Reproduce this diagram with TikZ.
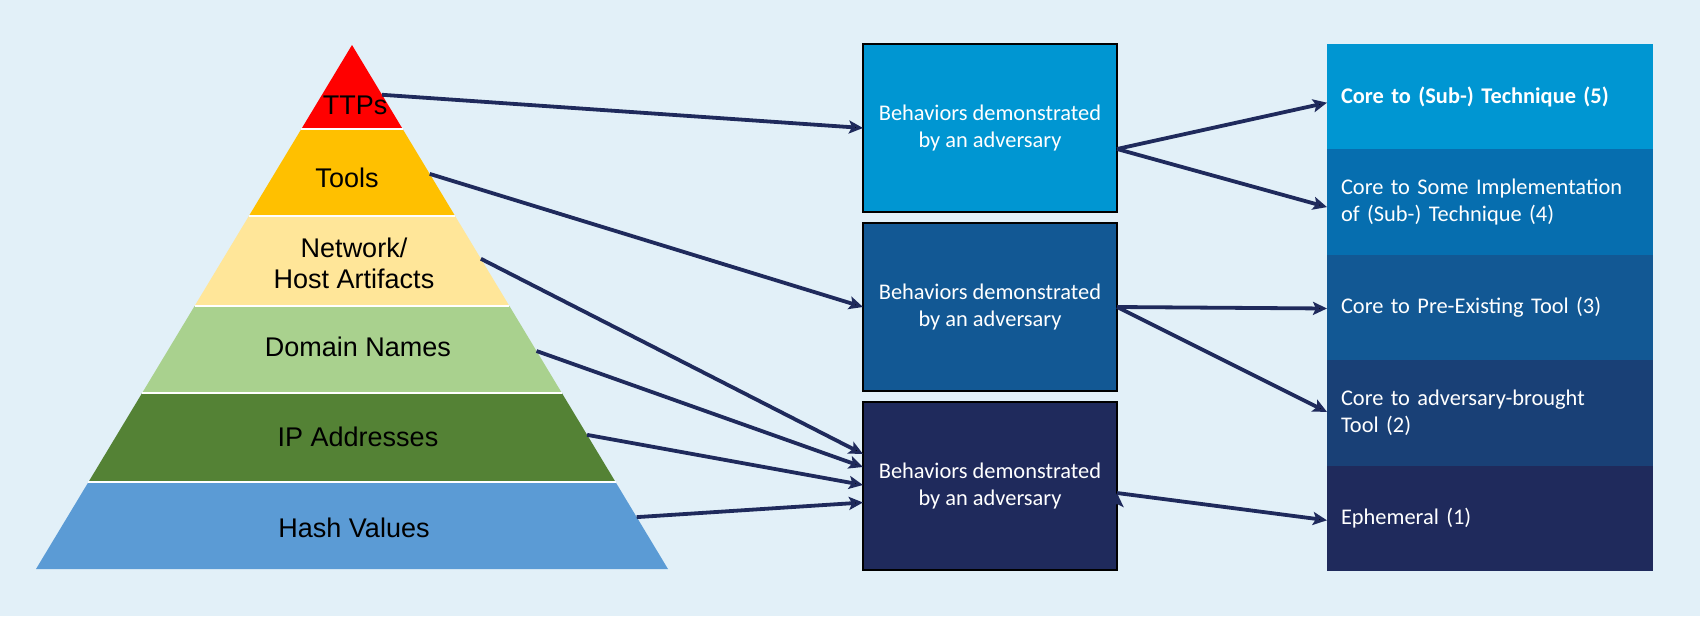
\documentclass[tikz,border=0pt]{standalone}
\usepackage{fontspec}
\setmainfont{Carlito}
\newfontfamily\pyrfont{Liberation Sans}
\usetikzlibrary{arrows.meta,calc,positioning}
\definecolor{bgblue}{RGB}{226,240,248}
\definecolor{navy}{RGB}{31,42,92}
\definecolor{ttpred}{RGB}{255,0,0}
\definecolor{toolgold}{RGB}{255,192,0}
\definecolor{netyellow}{RGB}{255,230,153}
\definecolor{domgreen}{RGB}{169,209,142}
\definecolor{ipgreen}{RGB}{84,130,53}
\definecolor{hashblue}{RGB}{91,155,213}
\definecolor{lvlfive}{RGB}{0,150,210}
\definecolor{lvlfour}{RGB}{6,110,175}
\definecolor{lvlthree}{RGB}{18,88,148}
\definecolor{lvltwo}{RGB}{25,64,118}
\definecolor{lvlone}{RGB}{31,42,92}
\tikzset{
    layer/.style =  {text=black,
                    align=center,
                    inner sep=0pt,
                    font=\pyrfont\fontsize{27}{31}\selectfont},
    behav/.style =  {rectangle,
                    draw=black,
                    line width=1.8pt,
                    text=white,
                    outer sep=0pt,
                    minimum width=254pt,
                    minimum height=168pt,
                    align=center,
                    font=\fontsize{22.4}{27.5}\selectfont},
    level/.style =  {rectangle,
                    text=white,
                    outer sep=0pt,
                    inner xsep=14pt,
                    inner ysep=0pt,
                    text width=298pt,
                    minimum height=105.4pt,
                    align=left,
                    font=\fontsize{22.4}{27}\selectfont},
    link/.style =   {draw=navy,
                    line width=3.8pt,
                    -{Stealth[length=14pt,width=13pt,inset=3pt]}},
    sep/.style =    {draw=white,
                    line width=2.5pt}}

\begin{document}
\begin{tikzpicture}[x=1pt,y=-1pt]
            \useasboundingbox (0,0) rectangle (1700,616);
            \fill[bgblue] (0,0) rectangle (1700,616);

            % pyramid
            \coordinate (top) at (352,45);
            \coordinate (bl)  at (36,569);
            \coordinate (br)  at (668,569);
            \foreach \a/\b/\col in {0/0.1603/ttpred, 0.1603/0.3263/toolgold,
                    0.3263/0.4981/netyellow, 0.4981/0.6641/domgreen,
                    0.6641/0.834/ipgreen, 0.834/1/hashblue}
                \fill[\col] ($(top)!\a!(bl)$) -- ($(top)!\b!(bl)$)
                    -- ($(top)!\b!(br)$) -- ($(top)!\a!(br)$) -- cycle;
            \foreach \b in {0.1603,0.3263,0.4981,0.6641,0.834}
                \draw[sep] ($(top)!\b!(bl)$) -- ($(top)!\b!(br)$);

            \node[layer]    (ttps)  at (355,105)    {TTPs};
            \node[layer]    (tools) at (347,178)    {Tools};
            \node[layer]    (net)   at (354,263)    {Network/\\Host Artifacts};
            \node[layer]    (dom)   at (358,347)    {Domain Names};
            \node[layer]    (ip)    at (358,437)    {IP Addresses};
            \node[layer]    (hash)  at (354,527.5)  {Hash Values};

            \coordinate (ttpsR)  at ($(top)!0.095!(br)$);
            \coordinate (toolsR) at ($(top)!0.246!(br)$);
            \coordinate (netR)   at ($(top)!0.408!(br)$);
            \coordinate (domR)   at ($(top)!0.584!(br)$);
            \coordinate (ipR)    at ($(top)!0.744!(br)$);
            \coordinate (hashR)  at ($(top)!0.901!(br)$);

            % behaviour boxes
            \node[behav, fill=lvlfive]  (box1) at (990,128)     {Behaviors demonstrated\\by an adversary};
            \node[behav, fill=lvlthree] (box2) [below=11pt of box1] {Behaviors demonstrated\\by an adversary};
            \node[behav, fill=lvlone]   (box3) [below=11pt of box2] {Behaviors demonstrated\\by an adversary};

            % levels
            \node[level, fill=lvlfive]  (lvl5) at (1490,96.7) {\bfseries Core to (Sub-) Technique (5)};
            \node[level, fill=lvlfour]  (lvl4) [below=0pt of lvl5] {Core to Some Implementation\\of (Sub-) Technique (4)};
            \node[level, fill=lvlthree] (lvl3) [below=0pt of lvl4] {Core to Pre-Existing Tool (3)};
            \node[level, fill=lvltwo]   (lvl2) [below=0pt of lvl3] {Core to adversary-brought\\Tool (2)};
            \node[level, fill=lvlone]   (lvl1) [below=0pt of lvl2] {Ephemeral (1)};

            \path [link]    (ttpsR)  edge []    (box1.west)
                            (toolsR) edge []    (box2.west)
                            (netR)   edge []    ([yshift=32pt]box3.west)
                            (domR)   edge []    ([yshift=19pt]box3.west)
                            (ipR)    edge []    ([yshift=1pt]box3.west)
                            (hashR)  edge []    ([yshift=-16.5pt]box3.west)
                            ([yshift=-21pt]box1.east) edge [] ([yshift=-6pt]lvl5.west)
                            ([yshift=-21pt]box1.east) edge [] ([yshift=-5pt]lvl4.west)
                            (box2.east) edge [] ([yshift=-1pt]lvl3.west)
                            (box2.east) edge [] ([yshift=1pt]lvl2.west)
                            ([yshift=-7pt]box3.east) edge [] ([yshift=-2pt]lvl1.west);
        \end{tikzpicture}
\end{document}
